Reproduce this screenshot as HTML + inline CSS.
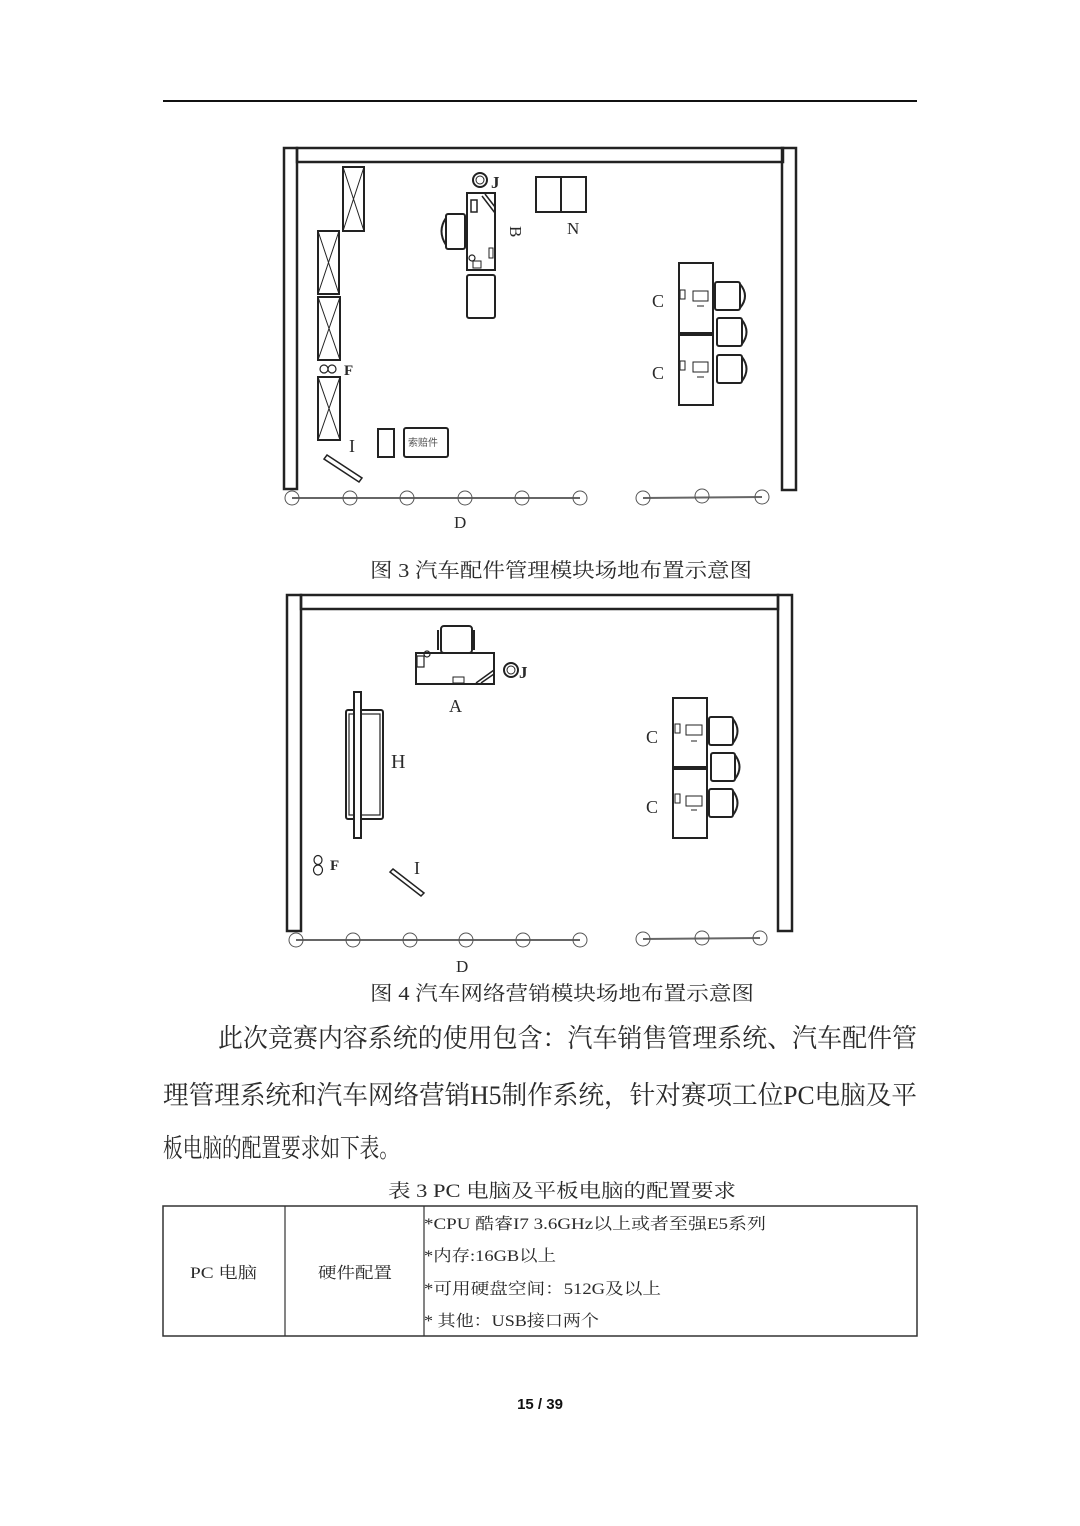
<!DOCTYPE html>
<html><head><meta charset="utf-8"><style>
html,body{margin:0;padding:0;background:#fff;}
svg{display:block;}
text{font-family:"Liberation Serif","Noto Serif CJK SC",serif;fill:#2a2a2a;}
</style></head><body>
<svg width="1080" height="1526" viewBox="0 0 1080 1526" xmlns="http://www.w3.org/2000/svg">
<line x1="163" y1="101" x2="917" y2="101" stroke="#111" stroke-width="2"/>
<g fill="none" stroke="#222" stroke-width="2">
<rect x="284" y="148" width="13" height="341" stroke-width="2.5"/>
<rect x="297" y="148" width="486" height="14" stroke-width="2.5"/>
<rect x="782" y="148" width="14" height="342" stroke-width="2.5"/>
<rect x="343" y="167" width="21" height="64"/><path d="M343 167L364 231M364 167L343 231" stroke-width="1"/>
<rect x="318" y="231" width="21" height="63"/><path d="M318 231L339 294M339 231L318 294" stroke-width="1"/>
<rect x="318" y="297" width="22" height="63"/><path d="M318 297L340 360M340 297L318 360" stroke-width="1"/>
<rect x="318" y="377" width="22" height="63"/><path d="M318 377L340 440M340 377L318 440" stroke-width="1"/>
<circle cx="324" cy="369" r="4" stroke-width="1.2"/><circle cx="332" cy="369" r="4" stroke-width="1.2"/>
<circle cx="480" cy="180" r="7"/><circle cx="480" cy="180" r="4" stroke-width="1"/>
<rect x="467" y="193" width="28" height="77"/>
<path d="M482 196L495 213M485 194L495 207" stroke-width="1.5"/>
<rect x="471" y="200" width="6" height="12" stroke-width="1.5"/>
<rect x="489" y="248" width="4" height="10" stroke-width="1"/>
<circle cx="472" cy="258" r="3" stroke-width="1.2"/><rect x="473" y="261" width="8" height="7" stroke-width="1"/>
<rect x="446" y="214" width="19" height="35" rx="2"/><path d="M446 218Q437 231 446 245" />
<rect x="467" y="275" width="28" height="43" rx="2"/>
<rect x="536" y="177" width="25" height="35"/><rect x="561" y="177" width="25" height="35"/>
<rect x="679" y="263" width="34" height="70"/><rect x="679" y="335" width="34" height="70"/>
<rect x="680" y="290" width="5" height="9" stroke-width="1"/><rect x="693" y="291" width="15" height="10" stroke-width="1"/><line x1="697" y1="306" x2="704" y2="306" stroke-width="1"/>
<rect x="680" y="361" width="5" height="9" stroke-width="1"/><rect x="693" y="362" width="15" height="10" stroke-width="1"/><line x1="697" y1="377" x2="704" y2="377" stroke-width="1"/>
<rect x="715" y="282" width="25" height="28" rx="2"/><path d="M740 284Q750 296 740 308"/>
<rect x="717" y="318" width="25" height="28" rx="2"/><path d="M742 320Q751 332 742 344"/>
<rect x="717" y="355" width="25" height="28" rx="2"/><path d="M742 357Q751 369 742 381"/>
<path d="M327 455L362 478L359 482L324 459Z" stroke-width="1.5"/>
<rect x="378" y="429" width="16" height="28"/><rect x="404" y="428" width="44" height="29" rx="2"/>
<line x1="292" y1="498" x2="580" y2="498" stroke="#666"/>
<line x1="643" y1="498" x2="762" y2="497" stroke="#666"/>
<g stroke-width="1" stroke="#555">
<circle cx="292" cy="498" r="7"/><circle cx="350" cy="498" r="7"/><circle cx="407" cy="498" r="7"/><circle cx="465" cy="498" r="7"/><circle cx="522" cy="498" r="7"/><circle cx="580" cy="498" r="7"/><circle cx="643" cy="498" r="7"/><circle cx="702" cy="496" r="7"/><circle cx="762" cy="497" r="7"/>
</g>

<rect x="287" y="595" width="14" height="336" stroke-width="2.5"/>
<rect x="301" y="595" width="477" height="14" stroke-width="2.5"/>
<rect x="778" y="595" width="14" height="336" stroke-width="2.5"/>
<rect x="441" y="626" width="31" height="27" rx="3"/><path d="M438 630v20M474 630v20"/>
<rect x="416" y="653" width="78" height="31"/>
<rect x="417" y="656" width="7" height="11" stroke-width="1.2"/><circle cx="427" cy="654" r="3" stroke-width="1.2"/>
<rect x="453" y="677" width="11" height="6" stroke-width="1"/>
<path d="M476 683L494 670M481 683L494 674" stroke-width="1.5"/>
<circle cx="511" cy="670" r="7"/><circle cx="511" cy="670" r="4" stroke-width="1"/>
<rect x="346" y="710" width="37" height="109" rx="2"/><rect x="349" y="714" width="31" height="101" stroke-width="1.2"/>
<rect x="354" y="692" width="7" height="146" fill="#fff"/>
<rect x="673" y="698" width="34" height="69"/><rect x="673" y="769" width="34" height="69"/>
<rect x="675" y="724" width="5" height="9" stroke-width="1"/><rect x="686" y="725" width="16" height="10" stroke-width="1"/><line x1="691" y1="741" x2="697" y2="741" stroke-width="1"/>
<rect x="675" y="794" width="5" height="9" stroke-width="1"/><rect x="686" y="796" width="16" height="10" stroke-width="1"/><line x1="691" y1="810" x2="697" y2="810" stroke-width="1"/>
<rect x="709" y="717" width="24" height="28" rx="2"/><path d="M733 719Q742 731 733 743"/>
<rect x="711" y="753" width="24" height="28" rx="2"/><path d="M735 755Q744 767 735 779"/>
<rect x="709" y="789" width="24" height="28" rx="2"/><path d="M733 791Q742 803 733 815"/>
<ellipse cx="318" cy="860" rx="4" ry="4.5" stroke-width="1.2"/><ellipse cx="318" cy="870" rx="4.5" ry="5" stroke-width="1.2"/>
<path d="M393 869L424 893L421 896L390 872Z" stroke-width="1.5"/>
<line x1="296" y1="940" x2="580" y2="940" stroke="#666"/>
<line x1="643" y1="939" x2="760" y2="938" stroke="#666"/>
<g stroke-width="1" stroke="#555">
<circle cx="296" cy="940" r="7"/><circle cx="353" cy="940" r="7"/><circle cx="410" cy="940" r="7"/><circle cx="466" cy="940" r="7"/><circle cx="523" cy="940" r="7"/><circle cx="580" cy="940" r="7"/><circle cx="643" cy="939" r="7"/><circle cx="702" cy="938" r="7"/><circle cx="760" cy="938" r="7"/>
</g>

<rect x="163" y="1206" width="754" height="130" stroke="#333" stroke-width="1.5"/>
<line x1="285" y1="1206" x2="285" y2="1336" stroke="#333" stroke-width="1.2"/>
<line x1="424" y1="1206" x2="424" y2="1336" stroke="#333" stroke-width="1.2"/>
</g>

<g font-size="18">
<text x="491" y="188" font-weight="bold" font-size="17">J</text>
<text x="505" y="231" transform="rotate(90 510 231)" font-size="17">B</text>
<text x="567" y="234" font-size="17">N</text>
<text x="652" y="307">C</text><text x="652" y="379">C</text>
<text x="344" y="375" font-weight="bold" font-size="15">F</text>
<text x="349" y="452" font-size="18">I</text>
<text x="408" y="446" font-size="10" style="font-family:'Noto Sans CJK SC',sans-serif;fill:#555">索赔件</text>
<text x="454" y="528" font-size="17">D</text>
<text x="519" y="678" font-weight="bold" font-size="17">J</text>
<text x="449" y="712" font-size="18">A</text>
<text x="391" y="768" font-size="20">H</text>
<text x="646" y="743">C</text><text x="646" y="813">C</text>
<text x="330" y="870" font-weight="bold" font-size="15">F</text>
<text x="414" y="874" font-size="18">I</text>
<text x="456" y="972" font-size="17">D</text>
</g>
<text x="370" y="577" font-size="20" textLength="382" lengthAdjust="spacingAndGlyphs">图 3  汽车配件管理模块场地布置示意图</text>
<text x="370" y="1000" font-size="20" textLength="384" lengthAdjust="spacingAndGlyphs">图 4  汽车网络营销模块场地布置示意图</text>
<g font-size="26">
<text x="218" y="1047" textLength="699" lengthAdjust="spacingAndGlyphs">此次竞赛内容系统的使用包含：汽车销售管理系统、汽车配件管</text>
<text x="163" y="1104" textLength="754" lengthAdjust="spacingAndGlyphs">理管理系统和汽车网络营销H5制作系统，针对赛项工位PC电脑及平</text>
<text x="163" y="1157" textLength="236" lengthAdjust="spacingAndGlyphs">板电脑的配置要求如下表。</text>
</g>
<text x="388" y="1197" font-size="19" textLength="348" lengthAdjust="spacingAndGlyphs">表 3  PC 电脑及平板电脑的配置要求</text>
<g font-size="16">
<text x="190" y="1278" textLength="67" lengthAdjust="spacingAndGlyphs">PC 电脑</text>
<text x="318" y="1278" textLength="74" lengthAdjust="spacingAndGlyphs">硬件配置</text>
<text x="424" y="1229" textLength="342" lengthAdjust="spacingAndGlyphs">*CPU 酷睿I7 3.6GHz以上或者至强E5系列</text>
<text x="424" y="1261" textLength="132" lengthAdjust="spacingAndGlyphs">*内存:16GB以上</text>
<text x="424" y="1294" textLength="237" lengthAdjust="spacingAndGlyphs">*可用硬盘空间：512G及以上</text>
<text x="424" y="1326" textLength="175" lengthAdjust="spacingAndGlyphs">* 其他：USB接口两个</text>
</g>
<text x="540" y="1409" font-size="15" font-weight="bold" text-anchor="middle" style="font-family:'Liberation Sans',sans-serif;fill:#111">15 / 39</text>
</svg>
</body></html>
